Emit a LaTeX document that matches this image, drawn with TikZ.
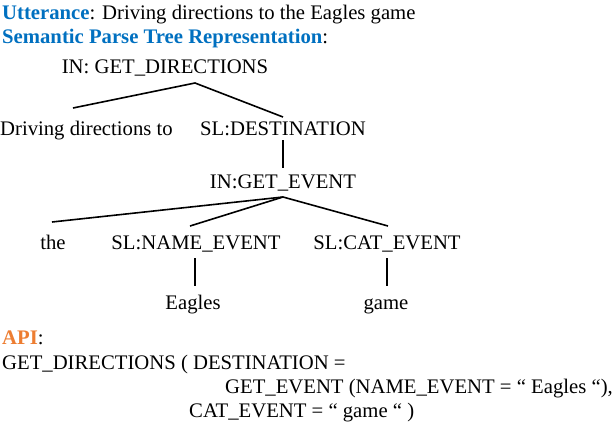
\documentclass[tikz,border=0pt]{standalone}
\usepackage{fontspec}
\setmainfont{Liberation Serif}
\definecolor{hblue}{RGB}{0,112,192}
\definecolor{horange}{RGB}{237,125,49}
\begin{document}
\begin{tikzpicture}[x=1pt,y=1pt,
  txt/.style={inner sep=0pt,font=\fontsize{20.7}{24}\selectfont},
  lt/.style={txt,anchor=base west},
  ct/.style={txt,anchor=base},
  edge/.style={line width=1.6pt,black}]
\useasboundingbox (0,0) rectangle (614,-424);
\node[lt] (utt) at (2,-19) {\textcolor{hblue}{\textbf{Utterance}}: Driving directions to the Eagles game};
\node[lt] (spt) at (2,-43) {\textcolor{hblue}{\textbf{Semantic Parse Tree Representation}}:};
\node[ct] (gd) at (165,-73) {IN: GET\_DIRECTIONS};
\node[lt] (ddt) at (0,-135) {Driving directions to};
\node[ct] (dest) at (283,-135) {SL:DESTINATION};
\node[ct] (ge) at (283,-188) {IN:GET\_EVENT};
\node[ct] (the) at (53,-249) {the};
\node[ct] (ne) at (196,-249) {SL:NAME\_EVENT};
\node[ct] (ce) at (387,-249) {SL:CAT\_EVENT};
\node[ct] (eag) at (193,-309) {Eagles};
\node[ct] (game) at (386,-309) {game};
\node[lt] (api) at (2,-344) {\textcolor{horange}{\textbf{API}}:};
\node[lt] (l1) at (2,-369) {GET\_DIRECTIONS ( DESTINATION =};
\node[lt] (l2) at (225,-393) {GET\_EVENT (NAME\_EVENT = “ Eagles “),};
\node[lt] (l3) at (189,-417) {CAT\_EVENT = “ game “ )};
% connector points
\coordinate (gdB) at (195,-83);
\coordinate (ddtT) at (73,-108);
\coordinate (destT) at (283,-117);
\coordinate (destB) at (283,-140);
\coordinate (geT) at (283,-168);
\coordinate (geB) at (283,-197);
\coordinate (theT) at (52,-222);
\coordinate (neT) at (190,-226);
\coordinate (ceT) at (388,-226);
\coordinate (neB) at (195,-258);
\coordinate (eagT) at (195,-286);
\coordinate (ceB) at (387,-258);
\coordinate (gameT) at (387,-286);
\draw[edge] (ddtT) -- (gdB) -- (destT);
\draw[edge] (destB) -- (geT);
\draw[edge] (theT) -- (geB) -- (ceT);
\draw[edge] (geB) -- (neT);
\draw[edge] (neB) -- (eagT);
\draw[edge] (ceB) -- (gameT);
\end{tikzpicture}
\end{document}
